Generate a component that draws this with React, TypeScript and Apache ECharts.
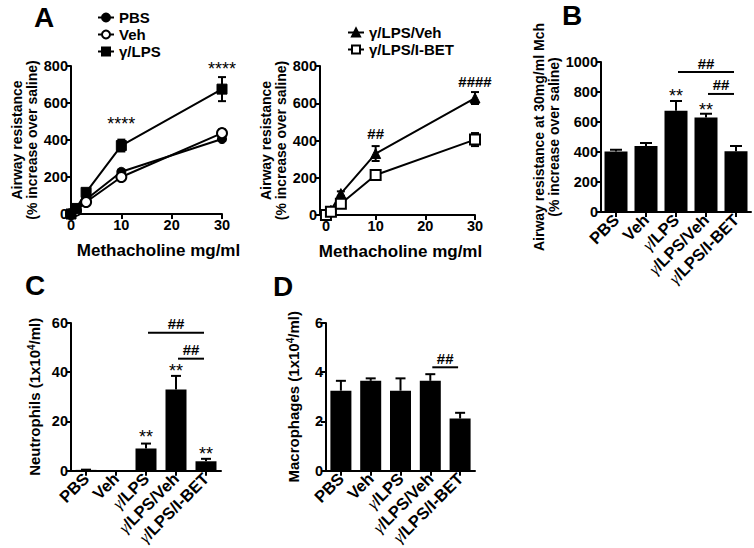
import React, { useEffect, useRef } from "react";
import * as echarts from "echarts";

const FONT = '"Liberation Sans", Arial, Helvetica, sans-serif';
const SERIF = '"Liberation Serif", "DejaVu Serif", serif';

// ---- Panel A: dose response ----
const doses = [0, 1, 3, 10, 30];
const pbsMean = [0, 22, 78, 228, 405];
const pbsErr = [0, 4, 8, 12, 10];
const vehMean = [0, 18, 65, 200, 437];
const vehErr = [0, 4, 8, 14, 20];
const lpsMean = [0, 30, 117, 370, 675];
const lpsErr = [0, 6, 18, 32, 65];
const lpsVehMean = [0, 25, 115, 330, 628];
const lpsVehErr = [0, 5, 12, 40, 32];
const ibetMean = [0, 18, 60, 215, 405];
const ibetErr = [0, 4, 10, 20, 35];
const doseTicks = [0, 10, 20, 30];

const aLeftMarkX = [10, 30];
const aLeftMarkY = [486, 786];
const aLeftMarkText = ["****", "****"];
const aRightMarkX = [10, 30];
const aRightMarkY = [440, 718];
const aRightMarkText = ["##", "####"];

// ---- Panels B, C, D: groups ----
const groups = ["PBS", "Veh", "γ/LPS", "γ/LPS/Veh", "γ/LPS/I-BET"];
const ahrMean = [403, 440, 675, 630, 405];
const ahrErr = [12, 20, 65, 25, 35];
const neutMean = [0.3, 0.1, 9, 33, 3.8];
const neutErr = [0.1, 0, 2, 5.5, 1];
const macMean = [3.25, 3.65, 3.25, 3.65, 2.12];
const macErr = [0.4, 0.1, 0.5, 0.27, 0.23];

const bStarIdx = [2, 3];
const bStarY = [772, 677];
const bBrackets = [[2, 4, 933], [3, 4, 787]];
const cStarIdx = [2, 3, 4];
const cStarY = [13.8, 40.6, 6.8];
const cBrackets = [[2, 4, 56], [3, 4, 45.5]];
const dBrackets = [[3, 4, 4.2]];
const bracketText = "##";

const BLACK = "#000";

function axisBase() {
  return {
    axisLine: { show: true, onZero: false, lineStyle: { color: BLACK, width: 2 } },
    axisTick: { show: true, length: 5, lineStyle: { color: BLACK, width: 2 } },
    axisLabel: {
      color: BLACK,
      fontSize: 14.5,
      fontWeight: "bold",
      fontFamily: FONT,
      margin: 3,
      formatter: (v: any) => String(v),
    },
    splitLine: { show: false },
  };
}

function errSeries(name: string, ai: number, data: number[][], cap: number, both: boolean) {
  return {
    type: "custom",
    name,
    xAxisIndex: ai,
    yAxisIndex: ai,
    z: 1,
    data,
    renderItem: (params: any, api: any) => {
      const x = api.value(0);
      const lo = api.value(1);
      const hi = api.value(2);
      if (hi - lo <= 0) return null;
      const p1 = api.coord([x, lo]);
      const p2 = api.coord([x, hi]);
      const st = { stroke: BLACK, lineWidth: 2 };
      const children: any[] = [
        { type: "line", shape: { x1: p1[0], y1: p1[1], x2: p2[0], y2: p2[1] }, style: st },
        { type: "line", shape: { x1: p2[0] - cap / 2, y1: p2[1], x2: p2[0] + cap / 2, y2: p2[1] }, style: st },
      ];
      if (both) {
        children.push({ type: "line", shape: { x1: p1[0] - cap / 2, y1: p1[1], x2: p1[0] + cap / 2, y2: p1[1] }, style: st });
      }
      return { type: "group", children };
    },
  };
}

function textSeries(name: string, ai: number, xs: number[], ys: number[], texts: string[], size: number, weight: string) {
  return {
    type: "custom",
    name,
    xAxisIndex: ai,
    yAxisIndex: ai,
    z: 5,
    data: xs.map((x, i) => [x, ys[i]]),
    renderItem: (params: any, api: any) => {
      const p = api.coord([api.value(0), api.value(1)]);
      return {
        type: "text",
        x: p[0],
        y: p[1],
        style: {
          text: texts[params.dataIndex],
          align: "center",
          verticalAlign: "middle",
          fontSize: size,
          fontWeight: weight,
          fontFamily: FONT,
          fill: BLACK,
        },
      };
    },
  };
}

function bracketSeries(name: string, ai: number, data: number[][]) {
  return {
    type: "custom",
    name,
    xAxisIndex: ai,
    yAxisIndex: ai,
    z: 5,
    data,
    renderItem: (params: any, api: any) => {
      const a = api.coord([api.value(0), api.value(2)]);
      const b = api.coord([api.value(1), api.value(2)]);
      return {
        type: "group",
        children: [
          { type: "line", shape: { x1: a[0] + 2, y1: a[1], x2: b[0] - 2, y2: b[1] }, style: { stroke: BLACK, lineWidth: 2 } },
          {
            type: "text",
            x: (a[0] + b[0]) / 2,
            y: a[1] - 9,
            style: {
              text: bracketText,
              align: "center",
              verticalAlign: "middle",
              fontSize: 15,
              fontWeight: "bold",
              fontFamily: FONT,
              fill: BLACK,
            },
          },
        ],
      };
    },
  };
}

function lineSeries(name: string, ai: number, mean: number[], symbol: string, size: number, open: boolean) {
  return {
    type: "line",
    name,
    xAxisIndex: ai,
    yAxisIndex: ai,
    z: 3,
    data: doses.map((d, i) => [d, mean[i]]),
    symbol,
    symbolSize: size,
    showAllSymbol: true,
    lineStyle: { color: BLACK, width: 2 },
    itemStyle: open
      ? { color: "#fff", borderColor: BLACK, borderWidth: 2 }
      : { color: BLACK, borderColor: BLACK, borderWidth: 1 },
  };
}

function errData(mean: number[], err: number[]) {
  return doses.map((d, i) => [d, mean[i] - err[i], mean[i] + err[i]]);
}
function barErrData(mean: number[], err: number[]) {
  return mean.map((m, i) => [i, m, m + err[i]]);
}

const catLabel = {
  color: BLACK,
  fontSize: 16.5,
  fontWeight: "bold",
  fontFamily: FONT,
  rotate: 45,
  margin: 5,
  interval: 0,
  formatter: (v: string) => v.replace("γ", "{g|γ}"),
  rich: {
    g: { fontFamily: SERIF, fontStyle: "italic", fontWeight: "normal", fontSize: 16.5, color: BLACK },
  },
};

const yNameStyle = (size: number) => ({
  color: BLACK,
  fontSize: size,
  fontWeight: "bold",
  fontFamily: FONT,
  lineHeight: size + 1.5,
  rich: { sup: { fontSize: 10, fontWeight: "bold", fontFamily: FONT, verticalAlign: "top", color: BLACK } },
});

const xNameStyle = (shift: number) => ({
  color: BLACK,
  fontSize: 17,
  fontWeight: "bold",
  fontFamily: FONT,
  padding: [0, 0, 0, shift],
});

function buildOption() {
  const b = axisBase;
  const legendText = { color: BLACK, fontSize: 15, fontWeight: "bold", fontFamily: FONT };
  return {
    animation: false,
    backgroundColor: "#fff",
    grid: [
      { left: 71, top: 66, width: 151, height: 148 },
      { left: 320, top: 66, width: 155, height: 149 },
      { left: 601, top: 62, width: 150, height: 150 },
      { left: 71, top: 323, width: 150, height: 149 },
      { left: 326, top: 323, width: 149, height: 149 },
    ],
    legend: [
      {
        data: ["PBS", "Veh", "γ/LPS"],
        orient: "vertical",
        left: 92,
        top: 5,
        itemGap: 2,
        itemWidth: 16,
        itemHeight: 10,
        textStyle: legendText,
        selectedMode: false,
      },
      {
        data: ["γ/LPS/Veh", "γ/LPS/I-BET"],
        orient: "vertical",
        left: 342,
        top: 20,
        itemGap: 2,
        itemWidth: 16,
        itemHeight: 10,
        textStyle: legendText,
        selectedMode: false,
      },
    ],
    xAxis: [
      {
        ...b(),
        type: "value",
        gridIndex: 0,
        min: 0,
        max: 30,
        interval: 10,
        name: "Methacholine mg/ml",
        nameLocation: "middle",
        nameGap: 28,
        nameTextStyle: xNameStyle(24),
      },
      {
        ...b(),
        type: "value",
        gridIndex: 1,
        min: -1.2,
        max: 30,
        axisTick: { show: true, length: 5, lineStyle: { color: BLACK, width: 2 }, customValues: doseTicks },
        axisLabel: { ...b().axisLabel, customValues: doseTicks },
        name: "Methacholine mg/ml",
        nameLocation: "middle",
        nameGap: 28,
        nameTextStyle: xNameStyle(6),
      },
      { ...b(), type: "category", gridIndex: 2, data: groups, axisTick: { ...b().axisTick, alignWithLabel: true }, axisLabel: catLabel },
      { ...b(), type: "category", gridIndex: 3, data: groups, axisTick: { ...b().axisTick, alignWithLabel: true }, axisLabel: catLabel },
      { ...b(), type: "category", gridIndex: 4, data: groups, axisTick: { ...b().axisTick, alignWithLabel: true }, axisLabel: catLabel },
    ],
    yAxis: [
      {
        ...b(),
        type: "value",
        gridIndex: 0,
        min: 0,
        max: 800,
        interval: 200,
        name: "Airway resistance\n(% increase over saline)",
        nameLocation: "middle",
        nameGap: 21,
        nameTextStyle: yNameStyle(14),
      },
      {
        ...b(),
        type: "value",
        gridIndex: 1,
        min: 0,
        max: 800,
        interval: 200,
        name: "Airway resistance\n(% increase over saline)",
        nameLocation: "middle",
        nameGap: 21,
        nameTextStyle: yNameStyle(14),
      },
      {
        ...b(),
        type: "value",
        gridIndex: 2,
        min: 0,
        max: 1000,
        interval: 200,
        name: "Airway resistance at 30mg/ml Mch\n(% increase over saline)",
        nameLocation: "middle",
        nameGap: 37,
        nameTextStyle: yNameStyle(14),
      },
      {
        ...b(),
        type: "value",
        gridIndex: 3,
        min: 0,
        max: 60,
        interval: 20,
        name: "Neutrophils (1x10{sup|4}/ml)",
        nameLocation: "middle",
        nameGap: 28,
        nameTextStyle: yNameStyle(15),
      },
      {
        ...b(),
        type: "value",
        gridIndex: 4,
        min: 0,
        max: 6,
        interval: 2,
        name: "Macrophages (1x10{sup|4}/ml)",
        nameLocation: "middle",
        nameGap: 24,
        nameTextStyle: yNameStyle(15),
      },
    ],
    graphic: [
      ["A", 44, 17],
      ["B", 572, 15],
      ["C", 35, 285],
      ["D", 283, 286],
    ].map(([t, x, y]) => ({
      type: "text",
      x,
      y,
      style: { text: t, fontSize: 28, fontWeight: "bold", fontFamily: FONT, fill: BLACK, align: "center", verticalAlign: "middle" },
    })),
    series: [
      errSeries("PBS err", 0, errData(pbsMean, pbsErr), 8, true),
      errSeries("Veh err", 0, errData(vehMean, vehErr), 8, true),
      errSeries("γ/LPS err", 0, errData(lpsMean, lpsErr), 8, true),
      lineSeries("PBS", 0, pbsMean, "circle", 9, false),
      lineSeries("Veh", 0, vehMean, "circle", 10, true),
      lineSeries("γ/LPS", 0, lpsMean, "rect", 10, false),
      textSeries("A stars", 0, aLeftMarkX, aLeftMarkY, aLeftMarkText, 18, "normal"),

      errSeries("γ/LPS/Veh err", 1, errData(lpsVehMean, lpsVehErr), 8, true),
      errSeries("γ/LPS/I-BET err", 1, errData(ibetMean, ibetErr), 8, true),
      lineSeries("γ/LPS/Veh", 1, lpsVehMean, "triangle", 10, false),
      lineSeries("γ/LPS/I-BET", 1, ibetMean, "rect", 10, true),
      textSeries("A hashes", 1, aRightMarkX, aRightMarkY, aRightMarkText, 15, "bold"),

      { type: "bar", name: "AHR 30", xAxisIndex: 2, yAxisIndex: 2, data: ahrMean, barWidth: 23, itemStyle: { color: BLACK } },
      errSeries("AHR 30 err", 2, barErrData(ahrMean, ahrErr), 12, false),
      textSeries("B stars", 2, bStarIdx, bStarY, bStarIdx.map(() => "**"), 18, "normal"),
      bracketSeries("B brackets", 2, bBrackets),

      { type: "bar", name: "Neutrophils", xAxisIndex: 3, yAxisIndex: 3, data: neutMean, barWidth: 21, itemStyle: { color: BLACK } },
      errSeries("Neutrophils err", 3, barErrData(neutMean, neutErr), 10, false),
      textSeries("C stars", 3, cStarIdx, cStarY, cStarIdx.map(() => "**"), 18, "normal"),
      bracketSeries("C brackets", 3, cBrackets),

      { type: "bar", name: "Macrophages", xAxisIndex: 4, yAxisIndex: 4, data: macMean, barWidth: 21, itemStyle: { color: BLACK } },
      errSeries("Macrophages err", 4, barErrData(macMean, macErr), 10, false),
      bracketSeries("D brackets", 4, dBrackets),
    ],
  };
}

export default function App() {
  const ref = useRef<HTMLDivElement>(null);
  useEffect(() => {
    if (!ref.current) return;
    const chart = echarts.init(ref.current, undefined, { renderer: "svg" });
    chart.setOption(buildOption() as any);
    return () => chart.dispose();
  }, []);
  return (
    <div
      ref={ref}
      style={{ position: "absolute", left: 0, top: 0, width: 754, height: 548, background: "#fff" }}
    />
  );
}
